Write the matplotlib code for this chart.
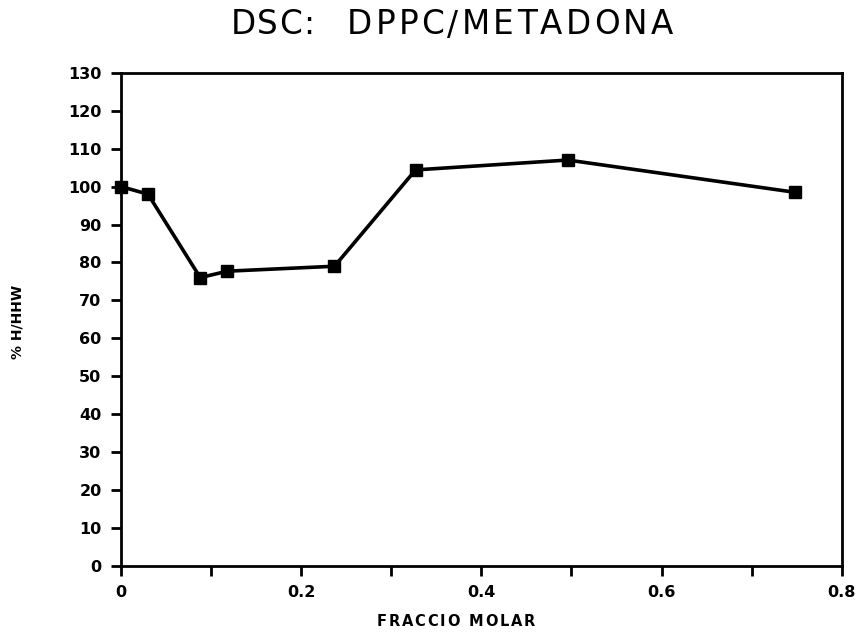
import matplotlib
matplotlib.use("Agg")
import matplotlib.pyplot as plt
from matplotlib.ticker import MultipleLocator

# Molar fraction of metadona vs. relative enthalpy
fraccio_molar = [0.0, 0.03, 0.088, 0.118, 0.237, 0.327, 0.496, 0.748]
pct_h_hhw = [100.0, 98.0, 76.0, 77.7, 79.0, 104.4, 107.0, 98.5]

x_ticks = [0, 0.2, 0.4, 0.6, 0.8]
x_tick_labels = ["0", "0.2", "0.4", "0.6", "0.8"]
y_ticks = list(range(0, 131, 10))

W, H = 858, 633
fig = plt.figure(figsize=(W / 100, H / 100), dpi=100)
ax = fig.add_axes([0.141, 0.106, 0.840, 0.779])

ax.plot(fraccio_molar, pct_h_hhw, color="black", linewidth=2.6,
        marker="s", markersize=8, markerfacecolor="black",
        markeredgecolor="black", clip_on=False, zorder=3)

ax.set_xlim(0, 0.8)
ax.set_ylim(0, 130)
ax.set_xticks(x_ticks)
ax.set_xticklabels(x_tick_labels)
ax.xaxis.set_minor_locator(MultipleLocator(0.1))
ax.set_yticks(y_ticks)

for s in ax.spines.values():
    s.set_linewidth(2.0)
    s.set_color("black")

ax.tick_params(axis="both", which="major", direction="out", length=7,
               width=2, labelsize=11.5, pad=7, colors="black")
ax.tick_params(axis="x", which="minor", direction="out", length=7, width=2)
for lbl in ax.get_xticklabels() + ax.get_yticklabels():
    lbl.set_fontweight("bold")

renderer = fig.canvas.get_renderer()


def tracked_text(s, left_px, right_px, y_px, **kw):
    """Place a string one character at a time so it spans left..right."""
    widths = []
    for ch in s:
        if ch == " ":
            probe = fig.text(0, 0, "n", **kw)
            w = probe.get_window_extent(renderer).width * 0.6
        else:
            probe = fig.text(0, 0, ch, **kw)
            w = probe.get_window_extent(renderer).width
        probe.remove()
        widths.append(w)
    gaps = len(s) - 1
    track = (right_px - left_px - sum(widths)) / gaps if gaps else 0
    x = left_px
    for ch, w in zip(s, widths):
        if ch != " ":
            fig.text(x / W, 1 - y_px / H, ch, ha="left", va="center", **kw)
        x += w + track


title_kw = dict(fontsize=23.5, fontfamily="DejaVu Sans", color="black")
tracked_text("DSC:", 231, 314, 25, **title_kw)
tracked_text("DPPC/METADONA", 347, 673, 25, **title_kw)

tracked_text("FRACCIO MOLAR", 377, 535, 622,
             fontsize=10.5, fontweight="bold", fontfamily="DejaVu Sans",
             color="black")

fig.text(18 / W, 1 - 322 / H, "% H/HHW", rotation=90, ha="center",
         va="center", fontsize=10, fontweight="bold", color="black")

fig.savefig("out.png", dpi=100, facecolor="white")
